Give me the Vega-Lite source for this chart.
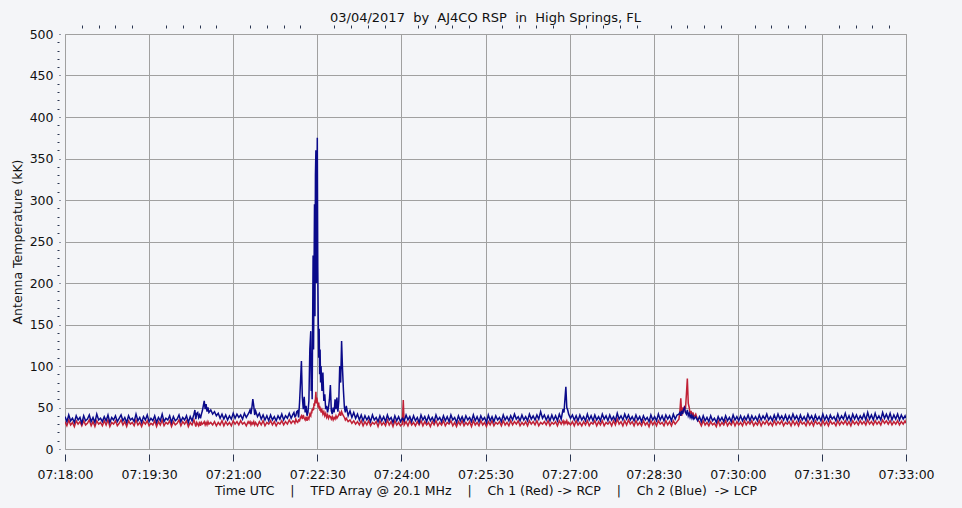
{
"$schema": "https://vega.github.io/schema/vega-lite/v6.json",
"width": 841, "height": 415,
"autosize": "none",
"padding": {"left": 65, "top": 34, "right": 56, "bottom": 59},
"background": "#f4f5f8",
"config": {"view": {"stroke": "#a0a0a0", "fill": "#f4f5f8"}, "font": "DejaVu Sans"},
"title": {"text": "03/04/2017\u00a0\u00a0by\u00a0\u00a0AJ4CO RSP\u00a0\u00a0in\u00a0\u00a0High Springs, FL", "font": "DejaVu Sans", "fontSize": 13, "fontWeight": "normal", "color": "#111", "offset": 0, "anchor": "middle"},
"data": {"values": [
{"t":0,"b":39,"r":33},{"t":2,"b":33,"r":28},{"t":4,"b":41,"r":35},{"t":6,"b":34,"r":29},{"t":8,"b":37,"r":32},{"t":10,"b":32,"r":27},{"t":12,"b":40,"r":34},{"t":14,"b":35,"r":30},{"t":16,"b":38,"r":33},{"t":18,"b":31,"r":28},
{"t":20,"b":40,"r":34},{"t":22,"b":34,"r":29},{"t":24,"b":36,"r":31},{"t":26,"b":41,"r":35},{"t":28,"b":33,"r":28},{"t":30,"b":38,"r":33},{"t":32,"b":32,"r":27},{"t":34,"b":42,"r":34},{"t":36,"b":35,"r":30},{"t":38,"b":37,"r":32},
{"t":40,"b":33,"r":28},{"t":42,"b":39,"r":34},{"t":44,"b":34,"r":29},{"t":46,"b":41,"r":35},{"t":48,"b":32,"r":27},{"t":50,"b":38,"r":32},{"t":52,"b":35,"r":30},{"t":54,"b":40,"r":34},{"t":56,"b":33,"r":28},{"t":58,"b":37,"r":31},
{"t":60,"b":41,"r":35},{"t":62,"b":34,"r":29},{"t":64,"b":38,"r":33},{"t":66,"b":32,"r":27},{"t":68,"b":40,"r":34},{"t":70,"b":35,"r":30},{"t":72,"b":37,"r":32},{"t":74,"b":33,"r":28},{"t":76,"b":42,"r":35},{"t":78,"b":34,"r":29},
{"t":80,"b":38,"r":32},{"t":82,"b":32,"r":27},{"t":84,"b":39,"r":33},{"t":86,"b":35,"r":30},{"t":88,"b":41,"r":34},{"t":90,"b":33,"r":28},{"t":92,"b":37,"r":31},{"t":94,"b":34,"r":29},{"t":96,"b":40,"r":34},{"t":98,"b":32,"r":27},
{"t":100,"b":38,"r":33},{"t":102,"b":34,"r":29},{"t":104,"b":42,"r":35},{"t":106,"b":33,"r":28},{"t":108,"b":37,"r":32},{"t":110,"b":35,"r":30},{"t":112,"b":40,"r":34},{"t":114,"b":32,"r":27},{"t":116,"b":39,"r":33},{"t":118,"b":34,"r":29},
{"t":120,"b":36,"r":31},{"t":122,"b":41,"r":35},{"t":124,"b":33,"r":28},{"t":126,"b":38,"r":33},{"t":128,"b":35,"r":30},{"t":130,"b":40,"r":34},{"t":132,"b":32,"r":27},{"t":134,"b":39,"r":32},{"t":136,"b":34,"r":29},{"t":138,"b":42,"r":35},
{"t":139,"b":47,"r":31},{"t":140,"b":36,"r":27},{"t":141,"b":43,"r":32},{"t":142,"b":44,"r":30},{"t":143,"b":38,"r":28},{"t":144,"b":41,"r":33},{"t":145,"b":37,"r":28},{"t":146,"b":42,"r":32},{"t":147,"b":46,"r":30},{"t":148,"b":52,"r":31},
{"t":149,"b":58,"r":33},{"t":150,"b":48,"r":29},{"t":151,"b":54,"r":32},{"t":152,"b":45,"r":29},{"t":153,"b":50,"r":33},{"t":154,"b":44,"r":30},{"t":156,"b":47,"r":32},{"t":158,"b":42,"r":29},{"t":160,"b":45,"r":33},{"t":162,"b":40,"r":28},
{"t":164,"b":43,"r":32},{"t":166,"b":37,"r":29},{"t":168,"b":42,"r":34},{"t":170,"b":36,"r":28},{"t":172,"b":41,"r":33},{"t":174,"b":35,"r":29},{"t":176,"b":40,"r":32},{"t":178,"b":36,"r":28},{"t":180,"b":43,"r":34},{"t":182,"b":37,"r":30},
{"t":184,"b":42,"r":33},{"t":186,"b":38,"r":29},{"t":188,"b":41,"r":34},{"t":190,"b":36,"r":30},{"t":192,"b":43,"r":32},{"t":194,"b":38,"r":28},{"t":196,"b":42,"r":33},{"t":197,"b":44,"r":31},{"t":198,"b":47,"r":33},{"t":199,"b":42,"r":29},
{"t":200,"b":50,"r":32},{"t":201,"b":60,"r":30},{"t":202,"b":52,"r":33},{"t":203,"b":41,"r":29},{"t":204,"b":46,"r":32},{"t":206,"b":39,"r":28},{"t":208,"b":43,"r":33},{"t":210,"b":36,"r":29},{"t":212,"b":41,"r":34},{"t":214,"b":35,"r":28},
{"t":216,"b":40,"r":32},{"t":218,"b":34,"r":30},{"t":220,"b":41,"r":34},{"t":222,"b":35,"r":29},{"t":224,"b":39,"r":33},{"t":226,"b":34,"r":28},{"t":228,"b":40,"r":32},{"t":230,"b":36,"r":30},{"t":232,"b":42,"r":34},{"t":234,"b":35,"r":29},
{"t":236,"b":40,"r":33},{"t":238,"b":37,"r":30},{"t":240,"b":43,"r":35},{"t":242,"b":37,"r":31},{"t":244,"b":42,"r":34},{"t":245,"b":44,"r":33},{"t":246,"b":39,"r":31},{"t":247,"b":40,"r":36},{"t":248,"b":45,"r":33},{"t":249,"b":46,"r":32},
{"t":250,"b":38,"r":35},{"t":251,"b":56,"r":34},{"t":252,"b":80,"r":38},{"t":253,"b":106,"r":40},{"t":254,"b":62,"r":36},{"t":255,"b":48,"r":41},{"t":256,"b":63,"r":37},{"t":257,"b":44,"r":35},{"t":258,"b":52,"r":39},{"t":259,"b":40,"r":34},
{"t":260,"b":44,"r":38},{"t":261,"b":58,"r":36},{"t":262,"b":120,"r":42},{"t":263,"b":142,"r":40},{"t":263.5,"b":70,"r":45},{"t":264,"b":96,"r":43},{"t":264.5,"b":60,"r":48},{"t":265,"b":150,"r":46},{"t":265.5,"b":233,"r":50},{"t":266,"b":120,"r":47},
{"t":266.5,"b":210,"r":55},{"t":267,"b":295,"r":52},{"t":267.5,"b":160,"r":58},{"t":268,"b":330,"r":60},{"t":268.5,"b":360,"r":69},{"t":269,"b":200,"r":55},{"t":269.5,"b":300,"r":62},{"t":270,"b":375,"r":58},{"t":270.5,"b":220,"r":54},{"t":271,"b":159,"r":50},
{"t":271.5,"b":110,"r":56},{"t":272,"b":145,"r":48},{"t":272.5,"b":90,"r":52},{"t":273,"b":120,"r":46},{"t":273.5,"b":80,"r":50},{"t":274,"b":100,"r":44},{"t":275,"b":70,"r":47},{"t":276,"b":92,"r":42},{"t":277,"b":58,"r":45},{"t":278,"b":66,"r":40},
{"t":279,"b":48,"r":43},{"t":280,"b":52,"r":38},{"t":281,"b":44,"r":41},{"t":282,"b":50,"r":37},{"t":283,"b":60,"r":40},{"t":284,"b":77,"r":39},{"t":285,"b":46,"r":36},{"t":286,"b":42,"r":39},{"t":287,"b":50,"r":35},{"t":288,"b":44,"r":38},
{"t":289,"b":60,"r":36},{"t":290,"b":48,"r":40},{"t":291,"b":62,"r":37},{"t":292,"b":45,"r":39},{"t":293,"b":58,"r":41},{"t":294,"b":100,"r":44},{"t":295,"b":80,"r":40},{"t":296,"b":130,"r":45},{"t":297,"b":96,"r":42},{"t":298,"b":70,"r":40},
{"t":299,"b":50,"r":38},{"t":300,"b":44,"r":35},{"t":301,"b":52,"r":37},{"t":303,"b":40,"r":33},{"t":305,"b":46,"r":35},{"t":307,"b":38,"r":31},{"t":309,"b":44,"r":34},{"t":311,"b":37,"r":30},{"t":313,"b":42,"r":33},{"t":315,"b":35,"r":29},
{"t":317,"b":41,"r":34},{"t":319,"b":34,"r":28},{"t":321,"b":40,"r":33},{"t":323,"b":35,"r":29},{"t":325,"b":39,"r":34},{"t":327,"b":33,"r":28},{"t":329,"b":41,"r":32},{"t":331,"b":35,"r":30},{"t":333,"b":38,"r":33},{"t":335,"b":33,"r":27},
{"t":337,"b":40,"r":34},{"t":339,"b":34,"r":29},{"t":341,"b":39,"r":32},{"t":343,"b":33,"r":28},{"t":345,"b":41,"r":35},{"t":347,"b":35,"r":29},{"t":349,"b":38,"r":33},{"t":351,"b":32,"r":27},{"t":353,"b":40,"r":34},{"t":355,"b":34,"r":29},
{"t":357,"b":39,"r":32},{"t":359,"b":33,"r":28},{"t":361,"b":37,"r":30},{"t":362,"b":36,"r":59},{"t":363,"b":34,"r":29},{"t":365,"b":41,"r":33},{"t":367,"b":35,"r":28},{"t":369,"b":39,"r":34},{"t":371,"b":33,"r":29},{"t":373,"b":40,"r":32},
{"t":375,"b":34,"r":28},{"t":377,"b":38,"r":33},{"t":379,"b":32,"r":29},{"t":381,"b":41,"r":34},{"t":383,"b":35,"r":28},{"t":385,"b":39,"r":33},{"t":387,"b":33,"r":29},{"t":389,"b":40,"r":32},{"t":391,"b":34,"r":27},{"t":393,"b":38,"r":33},
{"t":395,"b":33,"r":29},{"t":397,"b":41,"r":34},{"t":399,"b":35,"r":28},{"t":401,"b":38,"r":32},{"t":403,"b":33,"r":29},{"t":405,"b":40,"r":34},{"t":407,"b":34,"r":28},{"t":409,"b":39,"r":32},{"t":411,"b":33,"r":30},{"t":413,"b":41,"r":34},
{"t":415,"b":35,"r":28},{"t":417,"b":38,"r":32},{"t":419,"b":32,"r":27},{"t":421,"b":40,"r":33},{"t":423,"b":34,"r":29},{"t":425,"b":39,"r":34},{"t":427,"b":33,"r":28},{"t":429,"b":40,"r":32},{"t":431,"b":35,"r":29},{"t":433,"b":38,"r":33},
{"t":435,"b":33,"r":27},{"t":437,"b":41,"r":34},{"t":439,"b":34,"r":29},{"t":441,"b":39,"r":32},{"t":443,"b":33,"r":28},{"t":445,"b":40,"r":34},{"t":447,"b":35,"r":29},{"t":449,"b":38,"r":32},{"t":451,"b":32,"r":27},{"t":453,"b":41,"r":33},
{"t":455,"b":34,"r":29},{"t":457,"b":39,"r":34},{"t":459,"b":33,"r":28},{"t":461,"b":40,"r":32},{"t":463,"b":35,"r":30},{"t":465,"b":38,"r":33},{"t":467,"b":33,"r":28},{"t":469,"b":41,"r":34},{"t":471,"b":35,"r":29},{"t":473,"b":39,"r":32},
{"t":475,"b":34,"r":28},{"t":477,"b":40,"r":34},{"t":479,"b":35,"r":29},{"t":481,"b":42,"r":33},{"t":483,"b":36,"r":30},{"t":485,"b":39,"r":34},{"t":487,"b":34,"r":28},{"t":489,"b":41,"r":32},{"t":491,"b":35,"r":29},{"t":493,"b":39,"r":33},
{"t":495,"b":34,"r":28},{"t":497,"b":42,"r":34},{"t":499,"b":36,"r":30},{"t":501,"b":40,"r":33},{"t":503,"b":35,"r":29},{"t":505,"b":41,"r":34},{"t":507,"b":36,"r":28},{"t":509,"b":45,"r":32},{"t":511,"b":37,"r":30},{"t":513,"b":41,"r":33},
{"t":515,"b":35,"r":29},{"t":517,"b":40,"r":34},{"t":519,"b":34,"r":28},{"t":521,"b":41,"r":32},{"t":523,"b":35,"r":30},{"t":525,"b":40,"r":33},{"t":527,"b":34,"r":28},{"t":529,"b":42,"r":34},{"t":531,"b":36,"r":30},{"t":533,"b":48,"r":34},
{"t":534,"b":44,"r":30},{"t":535,"b":60,"r":33},{"t":536,"b":75,"r":31},{"t":537,"b":50,"r":34},{"t":538,"b":47,"r":30},{"t":539,"b":42,"r":32},{"t":541,"b":37,"r":29},{"t":543,"b":41,"r":33},{"t":545,"b":35,"r":28},{"t":547,"b":40,"r":34},
{"t":549,"b":34,"r":29},{"t":551,"b":41,"r":32},{"t":553,"b":35,"r":28},{"t":555,"b":39,"r":33},{"t":557,"b":34,"r":29},{"t":559,"b":42,"r":34},{"t":561,"b":35,"r":28},{"t":563,"b":40,"r":32},{"t":565,"b":34,"r":30},{"t":567,"b":41,"r":34},
{"t":569,"b":35,"r":28},{"t":571,"b":39,"r":33},{"t":573,"b":34,"r":29},{"t":575,"b":42,"r":34},{"t":577,"b":36,"r":28},{"t":579,"b":40,"r":32},{"t":581,"b":34,"r":30},{"t":583,"b":41,"r":33},{"t":585,"b":35,"r":28},{"t":587,"b":39,"r":34},
{"t":589,"b":34,"r":29},{"t":591,"b":43,"r":36},{"t":593,"b":36,"r":30},{"t":595,"b":40,"r":33},{"t":597,"b":35,"r":28},{"t":599,"b":42,"r":34},{"t":601,"b":36,"r":29},{"t":603,"b":41,"r":35},{"t":605,"b":35,"r":30},{"t":607,"b":39,"r":33},
{"t":609,"b":34,"r":28},{"t":611,"b":41,"r":34},{"t":613,"b":35,"r":29},{"t":615,"b":39,"r":32},{"t":617,"b":33,"r":28},{"t":619,"b":40,"r":34},{"t":621,"b":35,"r":29},{"t":623,"b":38,"r":32},{"t":625,"b":33,"r":27},{"t":627,"b":41,"r":34},
{"t":629,"b":35,"r":29},{"t":631,"b":39,"r":33},{"t":633,"b":34,"r":28},{"t":635,"b":42,"r":34},{"t":637,"b":35,"r":30},{"t":639,"b":40,"r":32},{"t":641,"b":34,"r":28},{"t":643,"b":41,"r":34},{"t":645,"b":36,"r":29},{"t":647,"b":40,"r":33},
{"t":649,"b":34,"r":28},{"t":651,"b":42,"r":34},{"t":653,"b":36,"r":30},{"t":655,"b":41,"r":33},{"t":657,"b":42,"r":36},{"t":658,"b":44,"r":45},{"t":659,"b":40,"r":61},{"t":660,"b":46,"r":40},{"t":661,"b":42,"r":50},{"t":662,"b":48,"r":44},
{"t":663,"b":50,"r":52},{"t":664,"b":44,"r":48},{"t":665,"b":42,"r":66},{"t":666,"b":47,"r":85},{"t":667,"b":40,"r":55},{"t":668,"b":43,"r":50},{"t":669,"b":38,"r":42},{"t":670,"b":41,"r":46},{"t":671,"b":37,"r":40},{"t":672,"b":40,"r":44},
{"t":673,"b":36,"r":38},{"t":675,"b":39,"r":42},{"t":677,"b":34,"r":35},{"t":679,"b":39,"r":33},{"t":681,"b":33,"r":28},{"t":683,"b":40,"r":34},{"t":685,"b":34,"r":29},{"t":687,"b":38,"r":32},{"t":689,"b":33,"r":28},{"t":691,"b":40,"r":33},
{"t":693,"b":34,"r":29},{"t":695,"b":37,"r":31},{"t":697,"b":32,"r":27},{"t":699,"b":39,"r":34},{"t":701,"b":34,"r":28},{"t":703,"b":38,"r":32},{"t":705,"b":33,"r":29},{"t":707,"b":40,"r":34},{"t":709,"b":34,"r":28},{"t":711,"b":38,"r":32},
{"t":713,"b":33,"r":29},{"t":715,"b":41,"r":34},{"t":717,"b":35,"r":28},{"t":719,"b":39,"r":33},{"t":721,"b":34,"r":29},{"t":723,"b":40,"r":32},{"t":725,"b":34,"r":28},{"t":727,"b":39,"r":34},{"t":729,"b":35,"r":29},{"t":731,"b":41,"r":33},
{"t":733,"b":34,"r":30},{"t":735,"b":40,"r":34},{"t":737,"b":35,"r":28},{"t":739,"b":39,"r":32},{"t":741,"b":34,"r":29},{"t":743,"b":41,"r":34},{"t":745,"b":35,"r":28},{"t":747,"b":40,"r":33},{"t":749,"b":36,"r":30},{"t":751,"b":42,"r":34},
{"t":753,"b":35,"r":29},{"t":755,"b":39,"r":32},{"t":757,"b":34,"r":28},{"t":759,"b":41,"r":34},{"t":761,"b":35,"r":29},{"t":763,"b":42,"r":33},{"t":765,"b":36,"r":30},{"t":767,"b":40,"r":34},{"t":769,"b":35,"r":28},{"t":771,"b":41,"r":32},
{"t":773,"b":34,"r":30},{"t":775,"b":40,"r":33},{"t":777,"b":35,"r":28},{"t":779,"b":42,"r":34},{"t":781,"b":36,"r":29},{"t":783,"b":40,"r":33},{"t":785,"b":34,"r":28},{"t":787,"b":41,"r":34},{"t":789,"b":35,"r":30},{"t":791,"b":39,"r":32},
{"t":793,"b":34,"r":28},{"t":795,"b":42,"r":34},{"t":797,"b":36,"r":29},{"t":799,"b":40,"r":33},{"t":801,"b":34,"r":28},{"t":803,"b":41,"r":34},{"t":805,"b":35,"r":30},{"t":807,"b":39,"r":32},{"t":809,"b":34,"r":28},{"t":811,"b":42,"r":34},
{"t":813,"b":35,"r":29},{"t":815,"b":40,"r":33},{"t":817,"b":34,"r":28},{"t":819,"b":41,"r":34},{"t":821,"b":36,"r":30},{"t":823,"b":39,"r":32},{"t":825,"b":34,"r":28},{"t":827,"b":42,"r":34},{"t":829,"b":35,"r":29},{"t":831,"b":40,"r":33},
{"t":833,"b":36,"r":30},{"t":835,"b":43,"r":34},{"t":837,"b":35,"r":29},{"t":839,"b":40,"r":33},{"t":841,"b":34,"r":28},{"t":843,"b":42,"r":34},{"t":845,"b":36,"r":30},{"t":847,"b":41,"r":33},{"t":849,"b":35,"r":29},{"t":851,"b":40,"r":34},
{"t":853,"b":36,"r":30},{"t":855,"b":42,"r":33},{"t":857,"b":35,"r":29},{"t":859,"b":44,"r":35},{"t":861,"b":36,"r":30},{"t":863,"b":41,"r":33},{"t":865,"b":35,"r":29},{"t":867,"b":43,"r":34},{"t":869,"b":36,"r":30},{"t":871,"b":40,"r":33},
{"t":873,"b":35,"r":29},{"t":875,"b":44,"r":35},{"t":877,"b":37,"r":31},{"t":879,"b":42,"r":34},{"t":881,"b":36,"r":30},{"t":883,"b":43,"r":34},{"t":885,"b":35,"r":29},{"t":887,"b":41,"r":33},{"t":889,"b":36,"r":30},{"t":891,"b":42,"r":34},
{"t":893,"b":35,"r":29},{"t":895,"b":41,"r":33},{"t":897,"b":36,"r":30},{"t":899,"b":40,"r":34},{"t":900,"b":37,"r":31}
]},
"layer": [
{
"mark": {"type": "line", "color": "#c02035", "strokeWidth": 1.5, "clip": true},
"encoding": {
"x": {"field": "t", "type": "quantitative", "scale": {"domain": [0, 900], "nice": false, "zero": false},
"axis": {"values": [0, 90, 180, 270, 360, 450, 540, 630, 720, 810, 900], "grid": true, "gridColor": "#a0a0a0", "gridOpacity": 1, "domain": false, "offset": 5, "tickSize": 7, "tickColor": "#2a3550", "labelExpr": "timeFormat(datetime(2017, 2, 4, 7, 18, datum.value), '%H:%M:%S')", "labelFont": "DejaVu Sans", "labelFontSize": 12.5, "labelColor": "#111", "labelPadding": 7, "labelFlush": false, "labelOverlap": false, "title": "Time UTC\u00a0\u00a0\u00a0\u00a0|\u00a0\u00a0\u00a0\u00a0TFD Array @ 20.1 MHz\u00a0\u00a0\u00a0\u00a0|\u00a0\u00a0\u00a0\u00a0Ch 1 (Red) -> RCP\u00a0\u00a0\u00a0\u00a0|\u00a0\u00a0\u00a0\u00a0Ch 2 (Blue)\u00a0\u00a0-> LCP", "titleFont": "DejaVu Sans", "titleFontSize": 12.5, "titleFontWeight": "normal", "titleColor": "#111", "titlePadding": 4}},
"y": {"field": "r", "type": "quantitative", "scale": {"domain": [0, 500], "nice": false},
"axis": {"values": [0, 50, 100, 150, 200, 250, 300, 350, 400, 450, 500], "grid": true, "gridColor": "#a0a0a0", "gridOpacity": 1, "domain": false, "offset": 5, "tickSize": 1, "tickColor": "#2a3550", "labelFont": "DejaVu Sans", "labelFontSize": 12.5, "labelColor": "#111", "labelPadding": 6, "title": "Antenna Temperature (kK)", "titleFont": "DejaVu Sans", "titleFontSize": 12.5, "titleFontWeight": "normal", "titleColor": "#111", "titlePadding": 5}}
}
},
{
"mark": {"type": "line", "color": "#0a0a8a", "strokeWidth": 1.5, "clip": true},
"encoding": {
"x": {"field": "t", "type": "quantitative",
"axis": {"values": [18, 36, 54, 72, 108, 126, 144, 162, 198, 216, 234, 252, 288, 306, 324, 342, 378, 396, 414, 432, 468, 486, 504, 522, 558, 576, 594, 612, 648, 666, 684, 702, 738, 756, 774, 792, 828, 846, 864, 882], "grid": false, "domain": false, "labels": false, "offset": 6, "tickSize": 3, "tickColor": "#2a3550", "title": null}},
"y": {"field": "b", "type": "quantitative",
"axis": {"orient": "left", "values": [10, 20, 30, 40, 60, 70, 80, 90, 110, 120, 130, 140, 160, 170, 180, 190, 210, 220, 230, 240, 260, 270, 280, 290, 310, 320, 330, 340, 360, 370, 380, 390, 410, 420, 430, 440, 460, 470, 480, 490], "grid": false, "domain": false, "labels": false, "offset": 6, "tickSize": 2, "tickColor": "#2a3550", "title": null}}
}
}
],
"resolve": {"axis": {"x": "independent", "y": "independent"}}
}
